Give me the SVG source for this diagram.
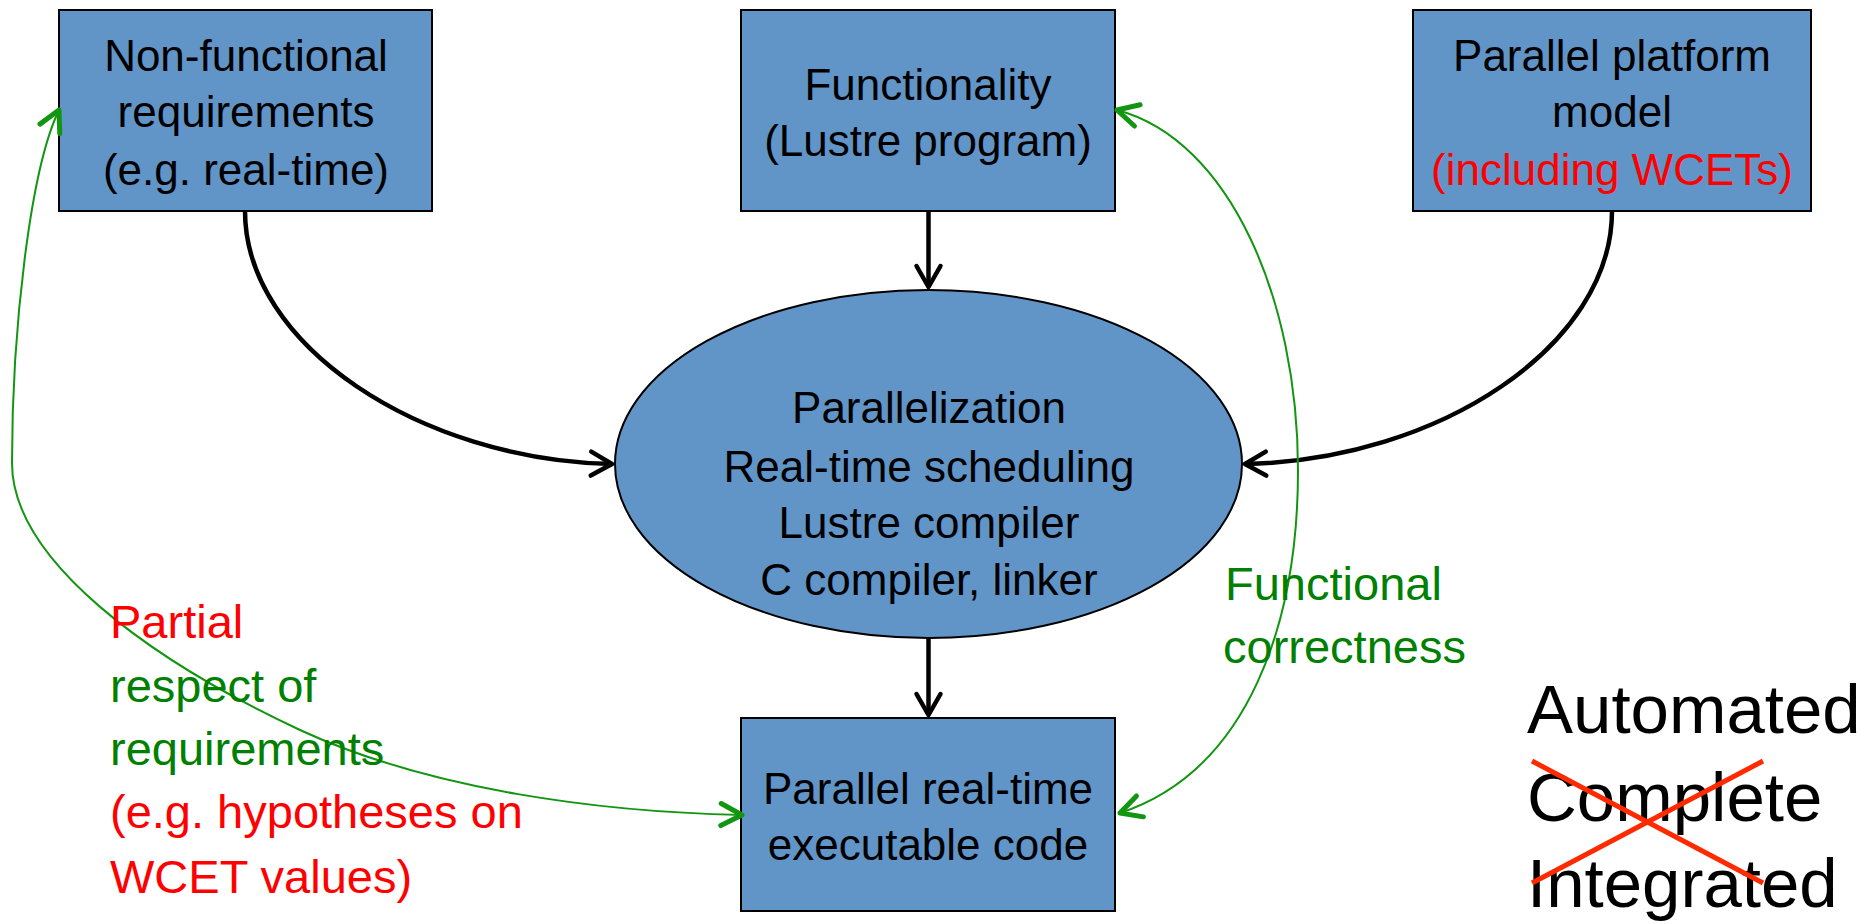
<svg xmlns="http://www.w3.org/2000/svg" width="1872" height="924" viewBox="0 0 1872 924">
  <defs>
    <style>
      .node { fill: #6195c8; stroke: #000; stroke-width: 2; }
      .t { font-family: "Liberation Sans", Arial, sans-serif; font-size: 44px; fill: #000; text-anchor: middle; }
      .lbl { font-family: "Liberation Sans", Arial, sans-serif; font-size: 47px; }
      .red { fill: #ff0000; }
      .green { fill: #008000; }
      .big { font-family: "Liberation Sans", Arial, sans-serif; font-size: 69px; fill: #000; }
      .flow { fill: none; stroke: #000; stroke-width: 4.5; }
      .check { fill: none; stroke: #129612; stroke-width: 2; }
    </style>
    <marker id="headBlack" markerUnits="userSpaceOnUse" markerWidth="40" markerHeight="40" refX="0" refY="0" orient="auto-start-reverse" overflow="visible">
      <path d="M -21,-12 L 0,0 L -21,12" fill="none" stroke="#000" stroke-width="4.5" stroke-linecap="round" stroke-linejoin="round"/>
    </marker>
    <marker id="headGreen" markerUnits="userSpaceOnUse" markerWidth="40" markerHeight="40" refX="0" refY="0" orient="auto-start-reverse" overflow="visible">
      <path d="M -21,-11 L 0,0 L -21,11" fill="none" stroke="#129612" stroke-width="5" stroke-linecap="round" stroke-linejoin="round"/>
    </marker>
  </defs>

  <rect width="1872" height="924" fill="#fff"/>

  <!-- inputs -->
  <g id="nonfunctional">
    <rect class="node" x="59" y="10" width="373" height="201"/>
    <text class="t" x="246" y="71">Non-functional</text>
    <text class="t" x="246" y="127">requirements</text>
    <text class="t" x="246" y="185">(e.g. real-time)</text>
  </g>

  <g id="functionality">
    <rect class="node" x="741" y="10" width="374" height="201"/>
    <text class="t" x="928" y="100">Functionality</text>
    <text class="t" x="928" y="156">(Lustre program)</text>
  </g>

  <g id="platform">
    <rect class="node" x="1413" y="10" width="398" height="201"/>
    <text class="t" x="1612" y="71">Parallel platform</text>
    <text class="t" x="1612" y="127">model</text>
    <text class="t red" x="1612" y="185">(including WCETs)</text>
  </g>

  <!-- tool chain -->
  <g id="toolchain">
    <ellipse class="node" cx="928.5" cy="464" rx="313.5" ry="174"/>
    <text class="t" x="929" y="423">Parallelization</text>
    <text class="t" x="929" y="482">Real-time scheduling</text>
    <text class="t" x="929" y="538">Lustre compiler</text>
    <text class="t" x="929" y="595">C compiler, linker</text>
  </g>

  <!-- output -->
  <g id="executable">
    <rect class="node" x="741" y="718" width="374" height="193"/>
    <text class="t" x="928" y="804">Parallel real-time</text>
    <text class="t" x="928" y="860">executable code</text>
  </g>

  <!-- connectors -->
  <g id="connectors">
    <path class="flow" d="M 245,211 C 245,345 420,460 612,464" marker-end="url(#headBlack)"/>
    <path class="flow" d="M 928.5,211 L 928.5,287" marker-end="url(#headBlack)"/>
    <path class="flow" d="M 1612,211 C 1612,345 1440,460 1245,464" marker-end="url(#headBlack)"/>
    <path class="flow" d="M 928.5,639 L 928.5,715" marker-end="url(#headBlack)"/>
    <path class="check" d="M 59,110 C 30,170 12,330 12,463 C 12,560 150,660 300,730 C 430,790 600,812 742,815" marker-start="url(#headGreen)" marker-end="url(#headGreen)"/>
    <path class="check" d="M 1117,110 C 1230,140 1298,300 1298,470 C 1298,620 1250,770 1120,813" marker-start="url(#headGreen)" marker-end="url(#headGreen)"/>
  </g>

  <!-- connector labels -->
  <g id="label-partial">
    <text class="lbl red" x="110" y="638">Partial</text>
    <text class="lbl green" x="110" y="702">respect of</text>
    <text class="lbl green" x="110" y="765">requirements</text>
    <text class="lbl red" x="110" y="828">(e.g. hypotheses on</text>
    <text class="lbl red" x="110" y="893">WCET values)</text>
  </g>
  <g id="label-functional">
    <text class="lbl green" x="1225" y="600">Functional</text>
    <text class="lbl green" x="1223" y="663">correctness</text>
  </g>

  <!-- properties -->
  <g id="properties">
    <text class="big" x="1527" y="733">Automated</text>
    <text class="big" x="1527" y="821">Complete</text>
    <text class="big" x="1527" y="907">Integrated</text>
    <line x1="1532" y1="761" x2="1763" y2="883" stroke="#ff2a00" stroke-width="5"/>
    <line x1="1532" y1="883" x2="1763" y2="761" stroke="#ff2a00" stroke-width="5"/>
  </g>
</svg>
